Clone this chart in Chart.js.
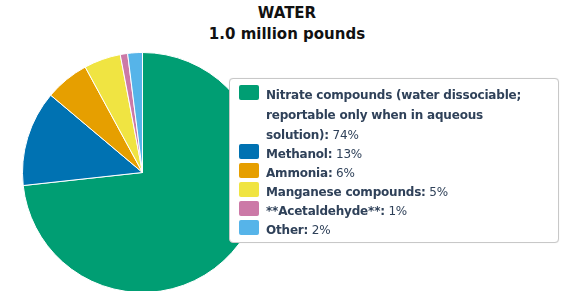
<!DOCTYPE html>
<html>
<head>
<meta charset="utf-8">
<script src="https://cdn.jsdelivr.net/npm/chart.js@4/dist/chart.umd.min.js"></script>
<style>
  html, body { margin: 0; padding: 0; overflow: hidden; background: #fff; }
  #wrap { position: relative; width: 565px; height: 291px; overflow: hidden; }
  #title {
    position: absolute; left: 0; top: 3px; width: 574px; text-align: center;
    font-family: "DejaVu Sans", sans-serif; font-weight: bold; font-size: 15px;
    line-height: 21px; color: #111;
  }
  #pieBox { position: absolute; left: 22px; top: 52px; width: 241px; height: 241px; }
  #legend {
    position: absolute; left: 229px; top: 78px; width: 311px;
    background: #fff; border: 1px solid #c8c8c8; border-radius: 4px;
    padding: 6px 8px 3px 9px;
    font-family: "DejaVu Sans", sans-serif; font-size: 12px; color: #2f4159;
    letter-spacing: -0.2px;
    box-shadow: 0 0 1px rgba(0,0,0,0.15);
  }
  .item { display: flex; align-items: flex-start; margin-bottom: -1px; }
  .sw { width: 20px; height: 15px; border-radius: 2px; flex: none; margin-right: 7px; }
  .lbl { line-height: 20px; max-width: 268px; }
  .lbl b { font-weight: bold; }
</style>
</head>
<body>
<div id="wrap">
  <div id="title"></div>
  <div id="pieBox"><canvas id="pie"></canvas></div>
  <div id="legend"></div>
</div>
<script>
const titleLines = ['WATER', '1.0 million pounds'];
const chemicals = [
  'Nitrate compounds (water dissociable; reportable only when in aqueous solution)',
  'Methanol',
  'Ammonia',
  'Manganese compounds',
  '**Acetaldehyde**',
  'Other'
];
const percents = [74, 13, 6, 5, 1, 2];
const colors = ['#009E73', '#0072B2', '#E69F00', '#F0E442', '#CC79A7', '#56B4E9'];

document.getElementById('title').innerHTML = titleLines.join('<br>');

// legend drawn as html so it can sit over the pie like the original
const legend = document.getElementById('legend');
chemicals.forEach((name, i) => {
  const row = document.createElement('div');
  row.className = 'item';
  row.innerHTML = `<span class="sw" style="background:${colors[i]}"></span>` +
    `<span class="lbl"><b>${name}:</b> ${percents[i]}%</span>`;
  legend.appendChild(row);
});

const ctx = document.getElementById('pie').getContext('2d');
new Chart(ctx, {
  type: 'pie',
  data: {
    labels: chemicals,
    datasets: [{
      data: percents,
      backgroundColor: colors,
      borderColor: '#fff',
      borderWidth: 1
    }]
  },
  options: {
    responsive: true,
    maintainAspectRatio: false,
    animation: false,
    devicePixelRatio: 1,
    layout: { padding: 0 },
    plugins: {
      legend: { display: false },
      title: { display: false },
      tooltip: { enabled: false }
    }
  }
});
</script>
</body>
</html>
